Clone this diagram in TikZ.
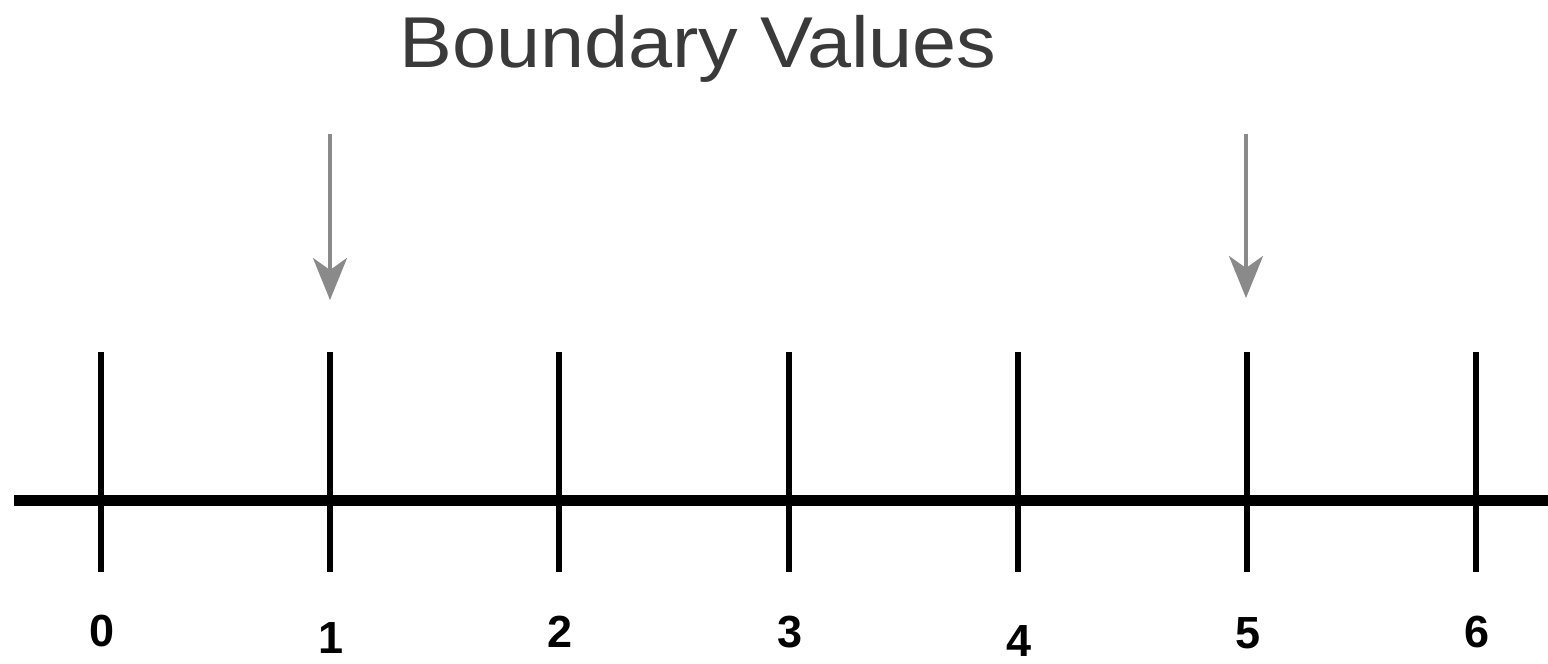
\documentclass[tikz,border=0pt]{standalone}
\usepackage{fontspec}
\setmainfont{Liberation Sans}
\usetikzlibrary{arrows.meta}
\definecolor{titlegray}{HTML}{3A3A3A}
\definecolor{arrowgray}{HTML}{8A8A8A}
\tikzset{
  axisline/.style={line width=11pt, black},
  tickline/.style={line width=6pt, black},
  pointer/.style={line width=3.5pt, arrowgray, -{Stealth[length=42pt,width=34pt,inset=12pt]}},
  numlabel/.style={font=\fontsize{45}{45}\selectfont\bfseries, inner sep=0pt, anchor=center},
  titlelabel/.style={font=\fontsize{72}{72}\selectfont, text=titlegray, inner sep=0pt, xscale=1.1}
}
\begin{document}
\begin{tikzpicture}[x=1pt,y=-1pt]
\useasboundingbox (0,0) rectangle (1548,664);
\fill[white] (0,0) rectangle (1548,664);
\node[titlelabel] (title) at (698,49) {Boundary Values};
% axis
\coordinate (axL) at (14,500);
\coordinate (axR) at (1548,500);
\draw[axisline] (axL) -- (axR);
% ticks
\foreach \i/\x/\ly in {0/101/631, 1/330/638, 2/559/632, 3/789/632, 4/1018/641, 5/1247/633, 6/1476/632}{
  \coordinate (t\i top) at (\x,352);
  \coordinate (t\i bot) at (\x,572);
  \draw[tickline] (t\i top) -- (t\i bot);
  \node[numlabel] (n\i) at (\x+1,\ly) {\i};
}
% pointers
\coordinate (p1s) at (330,134);
\coordinate (p1e) at (330,300);
\coordinate (p5s) at (1246,134);
\coordinate (p5e) at (1246,298);
\draw[pointer] (p1s) -- (p1e);
\draw[pointer] (p5s) -- (p5e);
\end{tikzpicture}
\end{document}
